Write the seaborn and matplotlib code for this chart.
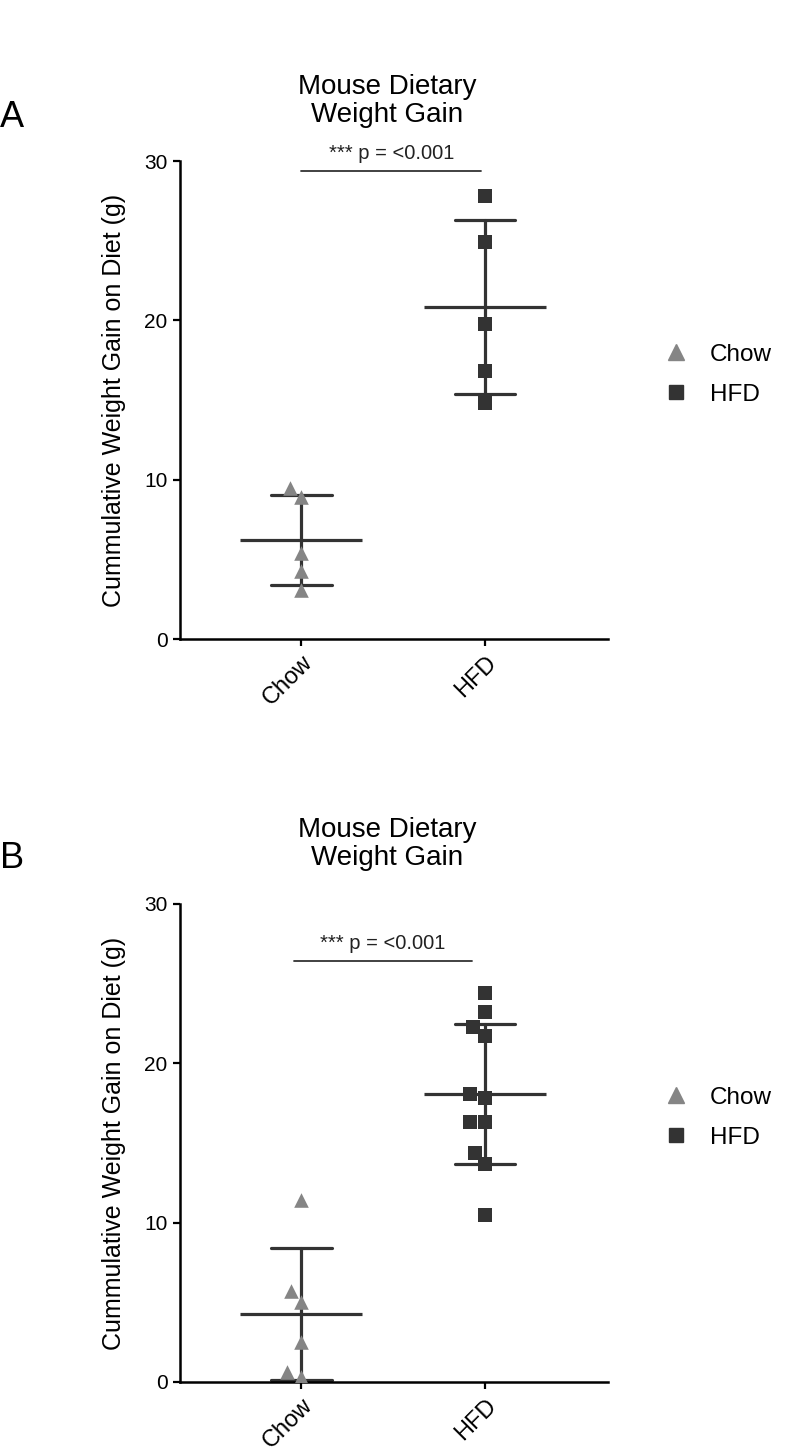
import matplotlib
matplotlib.use('Agg')
import matplotlib.pyplot as plt
import seaborn as sns
import pandas as pd
from matplotlib.lines import Line2D

# valores (g)
grupos = ['Chow', 'HFD']
chow_a = [8.9, 9.5, 5.4, 4.3, 3.1]
hfd_a = [27.8, 24.9, 19.8, 16.8, 14.8]
chow_b = [11.4, 5.7, 5.0, 2.5, 0.6, 0.3]
hfd_b = [24.4, 23.2, 22.3, 21.7, 18.1, 17.8, 16.3, 16.3, 14.4, 13.7, 10.5]
y_ticks = [0, 10, 20, 30]
titulo = 'Mouse Dietary\nWeight Gain'
ylabel = 'Cummulative Weight Gain on Diet (g)'
p_texto = '*** p = <0.001'

sns.set_style('ticks')
plt.rcParams['font.family'] = ['Liberation Sans', 'DejaVu Sans']
plt.rcParams['text.color'] = 'black'
plt.rcParams['axes.labelcolor'] = 'black'
plt.rcParams['xtick.color'] = 'black'
plt.rcParams['ytick.color'] = 'black'

cor_chow = '#858585'
cor_hfd = '#333333'
cor_linha = '#333333'

fig = plt.figure(figsize=(7.87, 14.51), dpi=100)


def painel(rect, chow, hfd, letra, letra_y, sig_x, sig_y):
    ax = fig.add_axes(rect)
    df = pd.DataFrame({'Grupo': ['Chow'] * len(chow) + ['HFD'] * len(hfd),
                       'Ganho': chow + hfd})

    # média e desvio padrão
    sns.pointplot(data=df, x='Grupo', y='Ganho', order=grupos, errorbar='sd',
                  capsize=0.33, color=cor_linha, linestyle='none', marker='_',
                  markersize=88, markeredgewidth=2.3,
                  err_kws={'linewidth': 2.3}, ax=ax)

    # pontos individuais
    sns.swarmplot(data=df[df['Grupo'] == 'Chow'], x='Grupo', y='Ganho', order=grupos,
                  marker='^', color=cor_chow, size=10.5, ax=ax, zorder=4)
    sns.swarmplot(data=df[df['Grupo'] == 'HFD'], x='Grupo', y='Ganho', order=grupos,
                  marker='s', color=cor_hfd, size=10.5, ax=ax, zorder=4)

    ax.set_ylim(0, 30)
    ax.set_xlim(-0.66, 1.67)
    ax.set_yticks(y_ticks)
    ax.set_yticklabels([str(t) for t in y_ticks], fontsize=15)
    ax.set_xticks([0, 1])
    ax.set_xticklabels(grupos, fontsize=17, rotation=45, ha='right',
                       rotation_mode='anchor')
    ax.set_xlabel('')
    ax.set_ylabel(ylabel, fontsize=18)
    ax.yaxis.set_label_coords(-0.125, 0.5)
    ax.tick_params(width=1.6, length=5, pad=4)
    for lado in ['left', 'bottom']:
        ax.spines[lado].set_linewidth(1.8)
        ax.spines[lado].set_color('black')
    sns.despine(ax=ax)

    ax.set_title(titulo, fontsize=20, pad=28, x=0.485, linespacing=1.1)
    fig.text(0.0, letra_y, letra, fontsize=26, ha='left', va='center')

    # barra de significância
    ax.plot(sig_x, [sig_y, sig_y], color=cor_linha, lw=1.3, clip_on=False)
    ax.text(sum(sig_x) / 2, sig_y + 0.5, p_texto, fontsize=14.5, ha='center',
            va='bottom', color='#222222')

    handles = [Line2D([], [], marker='^', color=cor_chow, linestyle='none', markersize=11),
               Line2D([], [], marker='s', color=cor_hfd, linestyle='none', markersize=10.5)]
    ax.legend(handles, grupos, loc='center left', bbox_to_anchor=(1.079, 0.553),
              frameon=False, fontsize=17.5, handlelength=1.0, handletextpad=0.9,
              labelspacing=0.75)
    return ax


painel([0.2287, 0.5596, 0.5438, 0.3294], chow_a, hfd_a, 'A', 0.919, [0.0, 0.98], 29.4)
painel([0.2287, 0.0476, 0.5438, 0.3294], chow_b, hfd_b, 'B', 0.408, [-0.04, 0.93], 26.4)

fig.savefig('out.png', dpi=100)
